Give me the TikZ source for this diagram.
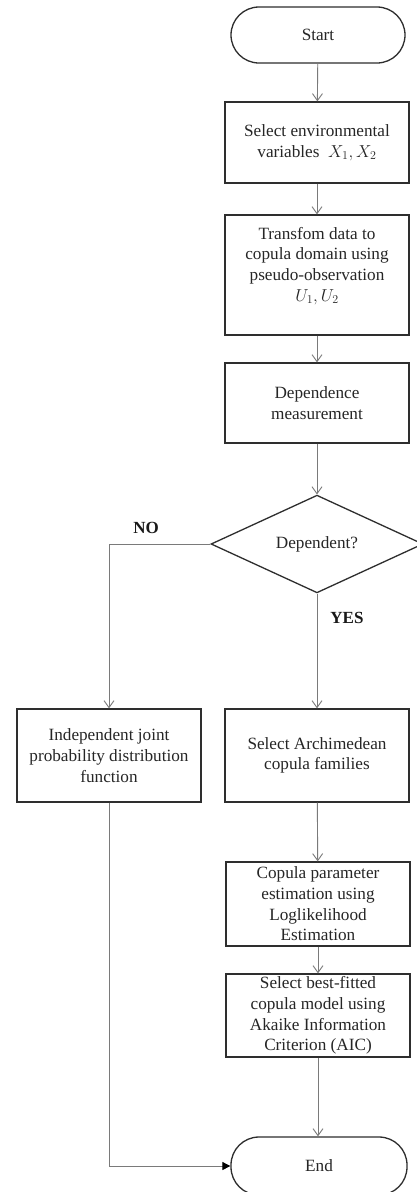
\documentclass[tikz,border=0pt]{standalone}
\usepackage{fontspec}
\setmainfont{Liberation Serif}
\usetikzlibrary{shapes.geometric,arrows.meta}
\definecolor{linegray}{HTML}{7A7A7A}
\definecolor{boxdark}{HTML}{2E2E2E}
\tikzset{
  txt/.style={font=\fontsize{17.2}{20.7}\selectfont, text=black!85, align=center},
  procbox/.style={txt, draw=boxdark, line width=1.3pt, minimum width=184pt, inner xsep=2pt, inner ysep=0pt},
  termbox/.style={txt, draw=boxdark, line width=1.3pt, rounded corners=28pt},
  decbox/.style={txt, draw=boxdark, line width=1.3pt, diamond, minimum width=212pt, minimum height=96pt, inner sep=0pt},
  conn/.style={draw=linegray, line width=0.9pt, -{Straight Barb[length=7pt,width=10pt]}},
  connfill/.style={draw=linegray, line width=0.9pt, -{Triangle[length=8pt,width=8pt,fill=black,color=black]}},
  lbl/.style={font=\fontsize{17}{18}\bfseries\selectfont, text=black!90}
}
\begin{document}
\begin{tikzpicture}[x=1pt,y=-1pt]
\useasboundingbox[fill=white] (0,0) rectangle (416,1192);
\node[termbox, minimum width=174pt, minimum height=56pt] (start) at (318,35) {Start};
\node[procbox, minimum height=81pt] (sel) at (317,142.5) {Select environmental\\variables\ \ $X_1, X_2$};
\node[procbox, minimum height=120pt] (trans) at (317,275) {Transfom data to\\copula domain using\\pseudo-observation\\$U_1, U_2$\\[1pt]};
\node[procbox, minimum height=80pt] (dep) at (317,403) {Dependence\\measurement};
\node[decbox] (dec) at (317,544) {Dependent?};
\node[procbox, minimum height=93pt] (indep) at (109,755.5) {Independent joint\\probability distribution\\function};
\node[procbox, minimum height=93pt] (arch) at (317,755.5) {Select Archimedean\\copula families};
\node[procbox, minimum height=84pt] (cop) at (318,904) {Copula parameter\\estimation using\\Loglikelihood\\Estimation};
\node[procbox, minimum height=83pt] (best) at (318,1015.5) {Select best-fitted\\copula model using\\Akaike Information\\Criterion (AIC)};
\node[termbox, minimum width=176pt, minimum height=58pt] (end) at (319,1166) {End};
\draw[conn] (start) -- (sel);
\draw[conn] (sel) -- (trans);
\draw[conn] (trans) -- (dep);
\draw[conn] (dep) -- (dec);
\draw[conn] (dec.south) -- (arch.north);
\draw[conn] (dec.west) -| (indep.north);
\draw[conn] (arch) -- (cop);
\draw[conn] (cop) -- (best);
\draw[conn] (best.south) -- (best.south |- end.north);
\draw[connfill] (indep.south) |- (end.west);
\node[lbl] (no) at (146,528) {NO};
\node[lbl] (yes) at (347,618) {YES};
\end{tikzpicture}
\end{document}
